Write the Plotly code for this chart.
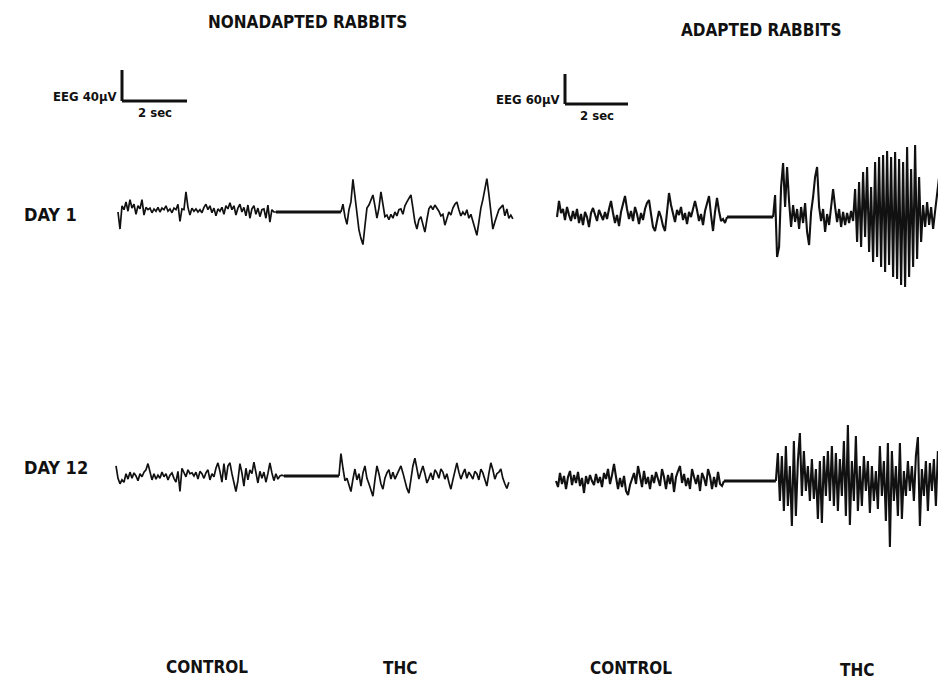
import numpy as np
import plotly.graph_objects as go

# ---------------- data (EEG deflection in microvolts, fixed sample interval) ----------------
DT_NONADAPTED = 0.0615   # seconds per sample
DT_ADAPTED = 0.0635

nonadapted_day1_control = [0, -22, 8, 3, 13, 1, 16, 5, 10, -3, 8, 4, 16, -4, 6, 3, 5, -1, 4, 1, 6, 0, 5, 3,
                           8, 1, 4, -1, 5, 3, 10, -12, 4, 3, 26, 6, -4, 5, 1, 4, 0, 3, -1, 6, 10, 3, 8, -1,
                           5, -5, 4, 1, 6, -3, 8, 4, 12, 3, 8, -4, 5, 10, 0, 6, -5, 9, -8, 4, 8, -3, 5, -6,
                           3, 4, -8, 9, -13, 3, 0, 0]
nonadapted_day1_thc = [0, 10, -6, -16, 3, 13, 42, 18, -5, -23, -34, -42, -18, 5, 9, 16, 22, 8, -8, 5, 26, 10,
                       -6, -4, -10, -3, -8, 0, -5, 3, 4, -3, 8, 13, 18, 22, 5, -13, -22, -10, -6, -16, -26,
                       -10, 4, 8, 3, 9, 5, 1, -5, -3, -17, -8, 0, -4, 5, 10, 13, 3, -5, 0, -4, 3, -8, -3,
                       -13, -20, -30, -13, 5, 16, 29, 43, 23, -3, -22, -13, -5, 3, 6, 9, -5, 4, -8, -4, -9]
nonadapted_day12_control = [13, -3, -10, -5, -8, 3, -4, 5, -3, 4, 0, -6, 3, -1, 5, 8, 16, 4, -5, 3, -4, 1, -3,
                            5, -1, 3, -5, 1, 4, -3, -8, 6, -20, 10, 5, -1, 8, 3, 4, 0, 5, -4, 6, 3, -3, 4, 8,
                            -5, 3, -1, 10, 17, 6, -8, 16, -5, 13, 17, 3, -10, -20, -6, 16, 4, -13, 10, -5, 8,
                            3, 18, 4, -9, 6, -3, 5, -8, 3, 17, 4, -6, 3, -4, 0, 1, 0]
nonadapted_day12_thc = [0, 29, 10, -6, -3, -13, -20, -4, 9, -5, 3, -13, 4, 13, -3, -10, -18, -26, -5, 13, 3,
                        -10, -17, -3, 4, 8, -4, 5, -4, 1, 6, 13, 4, -8, -16, -22, -5, 13, 23, 8, -4, 5, 13, 3,
                        -9, -3, 4, -5, 8, 4, -3, 9, 5, -4, 3, -8, -17, -5, 8, 17, 5, -4, 3, 9, -3, 5, 1, -4,
                        6, 3, -5, 9, 4, -6, -13, 3, 17, 8, -4, 3, 5, 9, -3, -10, -16, -8]

adapted_day1_control = [0, 32, 8, 16, -6, 20, 4, -8, 12, -4, 16, -12, 6, -16, 10, 0, -20, 8, 18, 4, -8, 14, 2,
                        -6, 10, -4, 16, 32, 8, -12, 4, -18, 10, 24, 42, 16, -4, 12, -8, 20, 6, -14, 8, -6, 16,
                        28, 34, 6, -20, -28, -8, 12, 0, -18, -28, 16, 48, 24, 4, -10, 14, 4, 20, -6, 8, -14,
                        10, 0, 16, 32, 14, -8, 6, -16, 12, 28, 42, 4, -28, 10, 38, 12, -8, -4, -12, 0]
adapted_day1_thc = [0, 44, -80, -60, 60, 108, 20, 100, 30, -20, 24, -10, 16, -24, 20, -12, 28, -30, -56, 10, 40,
                    80, 100, 20, -8, 16, -30, 6, -16, 24, 56, 20, -10, 16, -20, 10, -16, 8, -12, 12, -8, 56,
                    -50, 70, -60, 90, -40, 100, -70, 60, -90, 110, -80, 120, -100, 124, -110, 132, -96, 120,
                    -120, 130, -124, 116, -136, 110, -140, 140, -120, 96, -100, 144, -84, 80, -50, 24, -20, 30,
                    -16, 20, -24, 12, 44, 80, 16, -10, 20]
adapted_day12_control = [0, -12, 16, -6, 10, -16, 8, 20, -8, 12, -4, 18, -10, 6, -24, 10, -6, 12, 0, -8, 14, -4,
                         8, -12, 16, 4, 24, -6, 12, 34, 8, -16, 6, -12, 10, -20, -28, -8, 4, 16, -6, 30, 10, -12,
                         20, -6, 8, -16, 12, -4, 18, 4, -10, 24, 8, -16, 12, -6, 16, -22, 8, 20, 30, -4, 14, -10,
                         6, -16, 24, 8, -6, 12, -20, 16, 6, -10, 24, 10, -16, 8, -12, 18, -6, -10, 0]
adapted_day12_thc = [0, 56, -40, 50, -60, 70, -50, 30, -90, 80, -70, 40, 96, -30, 60, -20, 30, -40, 44, -36, 24,
                     -76, 40, -84, 50, -30, 60, -40, 70, -50, 56, -60, 44, -30, 80, -70, 112, -88, 40, -40, 90,
                     -60, 30, -50, 50, -20, 40, -64, 30, -40, 20, -56, 70, -30, 40, -80, 76, -132, 60, -40, 30,
                     -70, 76, -76, 20, -30, 40, -20, 30, -40, 50, 88, -90, 24, -30, 40, -60, 36, -20, 44, -50,
                     60, 10, -20, 40]

# start time (s) of the THC record within each panel
thc_start = {"nonadapted_day1": 6.86, "nonadapted_day12": 6.86,
             "adapted_day1": 6.86, "adapted_day12": 6.98}

column_titles = ["NONADAPTED RABBITS", "ADAPTED RABBITS"]
row_labels = ["DAY 1", "DAY 12"]
segment_labels = ["CONTROL", "THC", "CONTROL", "THC"]
scale_uv = [40, 60]      # calibration bar amplitude
scale_sec = [2, 2]       # calibration bar duration

# ---------------- layout geometry ----------------
# the page body has an 8px margin; the figure is shrunk/shifted to fit the 946x689 window
PAGE_W, PAGE_H, BODY = 946, 689, 8
W, H = PAGE_W - BODY, PAGE_H - BODY
INK = "#111111"
FONT = "DejaVu Sans Condensed, Liberation Sans Narrow, DejaVu Sans, sans-serif"


def fx(px):  # reference x pixel -> figure pixel
    return px - BODY


def fy(py):
    return py - BODY


panels = [
    # key, axis idx, origin px, baseline px, px per s, px per uV, dt, control, thc
    ("nonadapted_day1", 1, 118, 212, 32.5, 0.775, DT_NONADAPTED, nonadapted_day1_control, nonadapted_day1_thc),
    ("adapted_day1", 2, 557, 217, 31.5, 0.5, DT_ADAPTED, adapted_day1_control, adapted_day1_thc),
    ("nonadapted_day12", 3, 116, 476, 32.5, 0.775, DT_NONADAPTED, nonadapted_day12_control, nonadapted_day12_thc),
    ("adapted_day12", 4, 556, 481, 31.5, 0.5, DT_ADAPTED, adapted_day12_control, adapted_day12_thc),
]

fig = go.Figure()
layout_axes = {}
for key, idx, ox, by, pps, ppu, dt, ctrl, thc in panels:
    sfx = "" if idx == 1 else str(idx)
    ox, by = fx(ox), fy(by)
    xr = [-ox / pps, (W - ox) / pps]
    yr = [-(H - by) / ppu, by / ppu]
    layout_axes["xaxis" + sfx] = dict(domain=[0, 1], range=xr, visible=False, fixedrange=True,
                                      anchor="y" + sfx)
    layout_axes["yaxis" + sfx] = dict(domain=[0, 1], range=yr, visible=False, fixedrange=True,
                                      anchor="x" + sfx)
    xa, ya = "x" + sfx, "y" + sfx
    t_ctrl = np.arange(len(ctrl)) * dt
    t_thc = thc_start[key] + np.arange(len(thc)) * dt
    lw = 1.7 if key.startswith("non") else 2.1
    fig.add_trace(go.Scatter(x=t_ctrl, y=ctrl, mode="lines", line=dict(color=INK, width=lw),
                             xaxis=xa, yaxis=ya, hoverinfo="skip", showlegend=False))
    fig.add_trace(go.Scatter(x=[t_ctrl[-1], t_thc[0]], y=[ctrl[-1], thc[0]], mode="lines",
                             line=dict(color=INK, width=3), xaxis=xa, yaxis=ya,
                             hoverinfo="skip", showlegend=False))
    fig.add_trace(go.Scatter(x=t_thc, y=thc, mode="lines", line=dict(color=INK, width=lw),
                             xaxis=xa, yaxis=ya, hoverinfo="skip", showlegend=False))

# calibration bars (drawn in the data units of the Day 1 panels)
bar_pos = [(1, 122, 101), (2, 565, 104)]  # axis idx, corner px in reference
shapes = []
annotations = []
for (idx, cx, cy), uv, sec in zip(bar_pos, scale_uv, scale_sec):
    key, _, ox, by, pps, ppu = panels[idx - 1][:6]
    sfx = "" if idx == 1 else str(idx)
    t0 = (cx - ox) / pps
    v0 = (by - cy) / ppu
    shapes.append(dict(type="line", xref="x" + sfx, yref="y" + sfx, x0=t0, x1=t0, y0=v0, y1=v0 + uv,
                       line=dict(color=INK, width=3)))
    shapes.append(dict(type="line", xref="x" + sfx, yref="y" + sfx, x0=t0, x1=t0 + sec, y0=v0, y1=v0,
                       line=dict(color=INK, width=3)))
    annotations.append(dict(xref="x" + sfx, yref="y" + sfx, x=t0, y=v0 + uv * 0.15,
                            text=f"<b>EEG {uv}\u03bcV</b>", showarrow=False, xanchor="right",
                            yanchor="middle", xshift=-3, font=dict(family=FONT, size=13, color=INK)))
    annotations.append(dict(xref="x" + sfx, yref="y" + sfx, x=t0 + sec / 2, y=v0,
                            text=f"<b>{sec} sec</b>", showarrow=False, xanchor="center",
                            yanchor="top", yshift=-2, font=dict(family=FONT, size=13, color=INK)))


def paper(px, py):
    return fx(px) / W, 1 - fy(py) / H


text_items = [
    (column_titles[0], 307, 22, "center", 17),
    (column_titles[1], 761, 30, "center", 17),
    (row_labels[0], 22, 215, "left", 18),
    (row_labels[1], 22, 467, "left", 18),
    (segment_labels[0], 207, 667, "center", 17),
    (segment_labels[1], 400, 668, "center", 17),
    (segment_labels[2], 631, 668, "center", 17),
    (segment_labels[3], 857, 670, "center", 17),
]
for txt, px, py, anc, size in text_items:
    x, y = paper(px, py)
    annotations.append(dict(xref="paper", yref="paper", x=x, y=y, text=f"<b>{txt}</b>",
                            showarrow=False, xanchor=anc, yanchor="middle",
                            font=dict(family=FONT, size=size, color=INK)))

fig.update_layout(width=W, height=H, margin=dict(l=0, r=0, t=0, b=0),
                  paper_bgcolor="white", plot_bgcolor="rgba(0,0,0,0)",
                  shapes=shapes, annotations=annotations, **layout_axes)

fig.write_html("out.html")
